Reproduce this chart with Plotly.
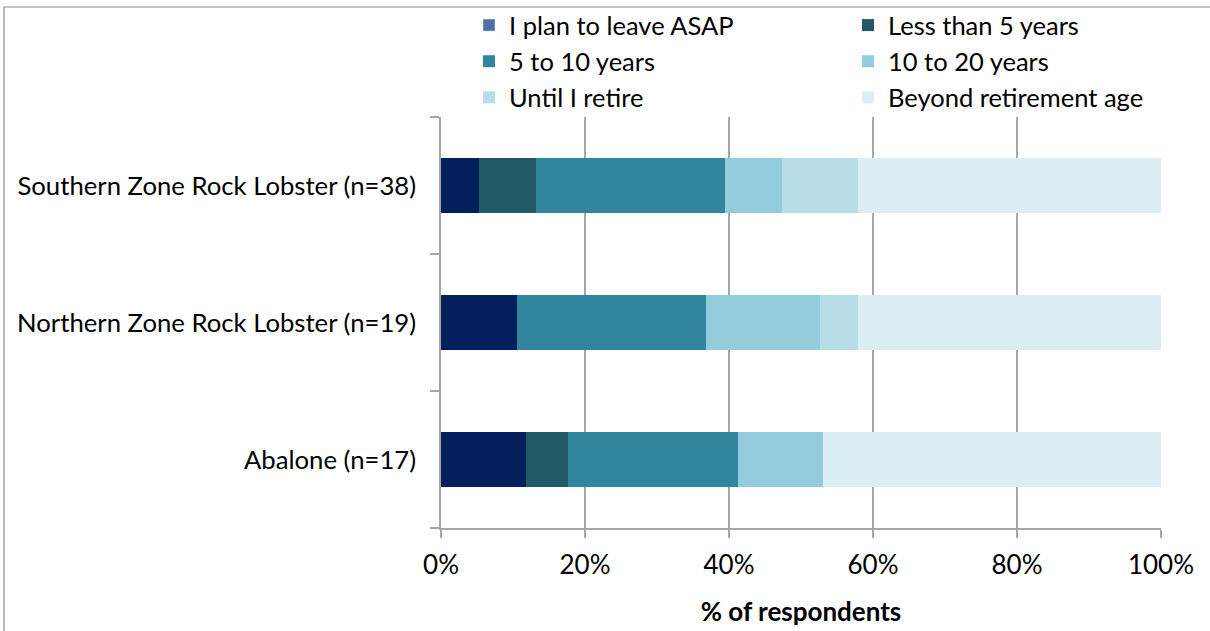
import plotly.graph_objects as go

# Fisheries and how long respondents plan to stay in them (% of respondents)
categories = [
    "Southern Zone Rock Lobster (n=38)",
    "Northern Zone Rock Lobster (n=19)",
    "Abalone (n=17)",
]
series_names = [
    "I plan to leave ASAP",
    "Less than 5 years",
    "5 to 10 years",
    "10 to 20 years",
    "Until I retire",
    "Beyond retirement age",
]
leave_asap = [5.3, 10.5, 11.8]
less_than_5 = [7.9, 0.0, 5.9]
five_to_10 = [26.3, 26.3, 23.5]
ten_to_20 = [7.9, 15.8, 11.8]
until_retire = [10.5, 5.3, 0.0]
beyond_retirement = [42.1, 42.1, 47.0]
x_tick_values = [0, 20, 40, 60, 80, 100]
x_tick_labels = ["0%", "20%", "40%", "60%", "80%", "100%"]

series_values = [leave_asap, less_than_5, five_to_10, ten_to_20, until_retire, beyond_retirement]
bar_colors = ["#03205C", "#215968", "#31859C", "#93CDDD", "#B7DEE8", "#DAEEF3"]
asap_key_color = "#4A71A8"
# two-column key: left column gets the even-indexed series, right column the odd ones
legend_column = ["legend", "legend2", "legend", "legend2", "legend", "legend2"]

FONT = "Lato, 'Open Sans', sans-serif"
FS = 26
CAT_FS = 25.7
LEGEND_FS = 25.5
GRID = "#A6A6A6"

fig = go.Figure()
for i, (name, vals, col, lg) in enumerate(zip(series_names, series_values, bar_colors, legend_column)):
    fig.add_trace(go.Bar(
        y=categories, x=vals, name=name, orientation="h",
        marker=dict(color=col, line=dict(width=0)),
        width=0.4, showlegend=(i != 0), legend=lg, legendrank=i + 1,
        hovertemplate="%{y}<br>" + name + ": %{x:.1f}%<extra></extra>",
    ))

# legend key for the first series uses a lighter blue than its bars
fig.add_trace(go.Bar(
    y=[None], x=[None], name=series_names[0], orientation="h",
    marker=dict(color=asap_key_color), legend="legend", legendrank=0, hoverinfo="skip",
))

legend_common = dict(
    orientation="v", xref="container", yref="container",
    xanchor="left", y=1 - 2 / 631, yanchor="top",
    traceorder="normal", font=dict(size=LEGEND_FS),
    bgcolor="rgba(0,0,0,0)", itemclick=False, itemdoubleclick=False,
)

fig.update_layout(
    width=1210, height=631,
    margin=dict(l=441, r=49, t=117, b=103, autoexpand=False),
    paper_bgcolor="white", plot_bgcolor="white",
    barmode="stack", bargap=0.6,
    font=dict(family=FONT, size=FS, color="#000000"),
    legend=dict(x=469 / 1210, **legend_common),
    legend2=dict(x=848 / 1210, **legend_common),
    xaxis=dict(
        range=[0, 100], tickmode="array", tickvals=x_tick_values, ticktext=x_tick_labels,
        showgrid=True, gridcolor=GRID, gridwidth=1.5,
        showline=True, linecolor=GRID, linewidth=1.5,
        ticks="outside", ticklen=8, tickcolor=GRID, tickwidth=1.5,
        ticklabelstandoff=5, zeroline=False, automargin=False,
        title=dict(text="<b>% of respondents</b>", standoff=24, font=dict(size=FS)),
    ),
    yaxis=dict(
        categoryorder="array", categoryarray=categories[::-1],
        range=[-0.5, 2.5], tickson="boundaries", tickfont=dict(size=CAT_FS),
        showline=True, linecolor=GRID, linewidth=1.5,
        ticks="outside", ticklen=9, tickcolor=GRID, tickwidth=1.5,
        ticklabelstandoff=18, showgrid=False, zeroline=False, automargin=False,
    ),
    shapes=[dict(
        type="rect", xref="paper", yref="paper",
        x0=(4 - 441) / 720, x1=1.2, y0=-0.4, y1=(528 - 7) / 411,
        line=dict(color="#8C8C8C", width=1.2), layer="below",
    )],
)

fig.write_html("out.html")
